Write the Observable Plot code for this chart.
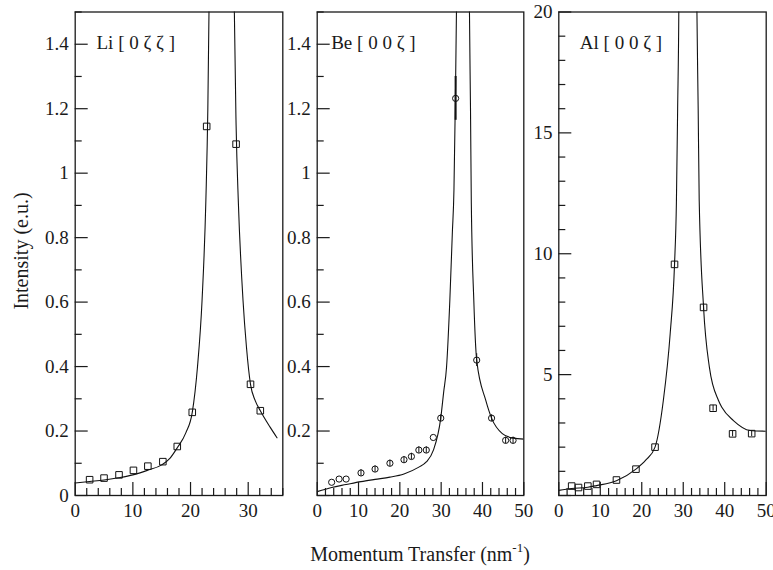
<!DOCTYPE html>
<html>
<head>
<meta charset="utf-8">
<script src="https://cdn.jsdelivr.net/npm/d3@7"></script>
<script src="https://cdn.jsdelivr.net/npm/@observablehq/plot@0.6"></script>
<style>
  html, body { margin: 0; padding: 0; background: #fff; }
  #chart { position: relative; width: 773px; height: 570px; font-family: "Times New Roman", "Liberation Serif", "DejaVu Serif", serif; color: #1a1a1a; overflow: hidden; }
  #chart svg, #chart svg text { font-family: "Times New Roman", "Liberation Serif", "DejaVu Serif", serif !important; }
  .panel { position: absolute; top: 0; }
  #ylab { position: absolute; left: 21px; top: 251px; transform: translate(-50%, -50%) rotate(-90deg); font-size: 20px; white-space: nowrap; }
  #xlab { position: absolute; left: 420px; top: 554px; transform: translate(-50%, -50%); font-size: 20px; white-space: nowrap; }
  #xlab sup { font-size: 13px; vertical-align: 9px; line-height: 0; }
</style>
</head>
<body>
<div id="chart">
  <div id="ylab">Intensity (e.u.)</div>
  <div id="xlab">Momentum Transfer (nm<sup>-1</sup>)</div>
</div>
<script>
// ---- Li [0ζζ] : measured intensities and model curve ----
const liQ = [2.5, 5.0, 7.6, 10.1, 12.6, 15.2, 17.7, 20.3, 22.8, 27.9, 30.4, 32.1];
const liI = [0.049, 0.054, 0.064, 0.078, 0.091, 0.105, 0.152, 0.258, 1.145, 1.090, 0.345, 0.263];
const liFitLo = [[0, 0.039], [2.5, 0.0435], [5, 0.048], [7.5, 0.055], [10, 0.064], [12.5, 0.078], [15, 0.095],
  [16.5, 0.117], [17.7, 0.148], [19.2, 0.195], [20.3, 0.258], [21.2, 0.398], [22.0, 0.606], [22.66, 0.916],
  [23.0, 1.2], [23.2, 1.5], [23.35, 1.8]];
const liFitHi = [[27.45, 1.8], [27.6, 1.5], [27.9, 1.15], [28.3, 0.906], [29.1, 0.606], [29.7, 0.46],
  [30.4, 0.345], [31.2, 0.295], [32.1, 0.263], [33.8, 0.212], [35.0, 0.179]];

// ---- Be [00ζ] ----
const beQ = [3.5, 5.3, 7.0, 10.6, 14.0, 17.6, 21.0, 22.8, 24.6, 26.4, 28.1, 29.9, 33.5, 38.6, 42.2, 45.6, 47.4];
const beI = [0.041, 0.051, 0.051, 0.070, 0.082, 0.100, 0.111, 0.121, 0.141, 0.141, 0.180, 0.240, 1.232, 0.420, 0.240, 0.171, 0.171];
const beErr = [0, 0, 0, 0.01, 0.01, 0.01, 0.01, 0.01, 0.01, 0.01, 0, 0.01, 0.068, 0.02, 0.01, 0.01, 0.01];
const beFitLo = [[0, 0.012], [3.5, 0.025], [7, 0.034], [10.6, 0.043], [14, 0.050], [17.6, 0.057], [21, 0.067],
  [24.6, 0.088], [26.4, 0.104], [28.1, 0.140], [29.9, 0.240], [30.6, 0.32], [31.3, 0.398], [32.1, 0.606],
  [32.7, 0.813], [33.1, 0.95], [33.4, 1.2], [33.7, 1.5], [33.85, 1.8]];
const beFitHi = [[36.7, 1.8], [36.85, 1.5], [37.1, 1.2], [37.3, 0.906], [37.9, 0.606], [38.6, 0.420],
  [40.8, 0.295], [42.2, 0.240], [44.8, 0.192], [47.4, 0.178], [50, 0.175]];

// ---- Al [00ζ] ----
const alQ = [3.1, 4.75, 7.0, 9.1, 13.9, 18.6, 23.2, 27.9, 34.9, 37.2, 41.9, 46.5];
const alI = [0.39, 0.33, 0.39, 0.46, 0.64, 1.09, 2.00, 9.56, 7.78, 3.61, 2.55, 2.56];
const alErr = [0, 0, 0, 0, 0, 0, 0, 0.15, 0.15, 0.12, 0.12, 0.12];
const alFitLo = [[0, 0.21], [3.1, 0.29], [7, 0.34], [9.1, 0.41], [13.9, 0.61], [18.6, 1.09], [21, 1.47],
  [23.2, 2.00], [25.2, 3.93], [26.85, 6.69], [27.9, 9.56], [28.35, 12.1], [28.65, 16], [28.93, 20], [29.0, 22]];
const alFitHi = [[33.2, 22], [33.3, 20], [33.6, 16], [33.85, 12.2], [34.9, 7.78], [36.3, 5.31], [38.5, 3.93],
  [39.3, 3.65], [42.1, 3.10], [46.1, 2.69], [49.9, 2.66]];

// ---- axis ticks and labels ----
const liXLabels = [0, 10, 20, 30];
const beXLabels = [0, 10, 20, 30, 40, 50];
const alXLabels = [0, 10, 20, 30, 40, 50];
const liYLabels = ["0", "0.2", "0.4", "0.6", "0.8", "1", "1.2", "1.4"];
const beYLabels = ["0.2", "0.4", "0.6", "0.8", "1", "1.2", "1.4"];
const alYLabels = ["5", "10", "15", "20"];

const H = 570, TOP = 11.5, BOTTOM = 495;
const INK = "#1a1a1a";
const SERIF = "'Times New Roman', 'Liberation Serif', 'DejaVu Serif', serif";

function ticksBetween(lo, hi, step, majors) {
  const out = [];
  const n = Math.round((hi - lo) / step);
  for (let i = 0; i <= n; i++) {
    const v = +(lo + i * step).toFixed(6);
    if (!majors.some(m => Math.abs(m - v) < 1e-6)) out.push(v);
  }
  return out;
}

function panel(cfg) {
  const frameW = cfg.right - cfg.left;
  const frameH = BOTTOM - TOP;
  const pts = cfg.q.map((q, i) => ({q, v: cfg.v[i], e: cfg.err ? cfg.err[i] : 0}));
  const xMajor = cfg.xMajor;
  const xMinor = ticksBetween(cfg.xDomain[0], cfg.xDomain[1], cfg.xStep, xMajor);
  const yMajor = cfg.yMajor;
  const yMinor = ticksBetween(cfg.yDomain[0], cfg.yDomain[1], cfg.yStep, yMajor);
  const yLab = cfg.yLabels.map(s => ({v: +s, s}));

  const svg = Plot.plot({
    width: cfg.boxRight - cfg.boxLeft,
    height: H,
    marginLeft: cfg.left - cfg.boxLeft,
    marginRight: cfg.boxRight - cfg.right,
    marginTop: TOP,
    marginBottom: H - BOTTOM,
    style: {background: "transparent", overflow: "visible", fontFamily: SERIF, color: INK},
    x: {domain: cfg.xDomain, axis: null},
    y: {domain: cfg.yDomain, axis: null},
    marks: [
      // model curve, both sides of the divergence
      Plot.line(cfg.fitLo, {x: d => d[0], y: d => d[1], curve: "monotone-x", stroke: "#111", strokeWidth: 1.1, clip: true}),
      Plot.line(cfg.fitHi, {x: d => d[0], y: d => d[1], curve: "monotone-x", stroke: "#111", strokeWidth: 1.1, clip: true}),
      // error bars
      Plot.ruleX(pts.filter(d => d.e > 0), {x: "q", y1: d => d.v - d.e, y2: d => d.v + d.e, stroke: "#111",
        strokeWidth: d => d.e > 0.05 && cfg.yDomain[1] < 2 ? 2 : 1}),
      // measured points
      Plot.dot(pts, {x: "q", y: "v", symbol: cfg.symbol, r: cfg.r, stroke: "#111", strokeWidth: 1, fill: "none"}),
      // inward tick marks
      Plot.ruleX(xMajor, {x: d => d, insetTop: frameH - 13, stroke: INK, strokeWidth: 1.2}),
      Plot.ruleX(xMinor, {x: d => d, insetTop: frameH - 7, stroke: INK, strokeWidth: 1.2}),
      Plot.ruleY(yMajor, {y: d => d, insetRight: frameW - 13, stroke: INK, strokeWidth: 1.2}),
      Plot.ruleY(yMinor, {y: d => d, insetRight: frameW - 7, stroke: INK, strokeWidth: 1.2}),
      Plot.frame({stroke: INK, strokeWidth: 1.3}),
      // tick labels
      Plot.text(cfg.xLabels, {x: d => d, frameAnchor: "bottom", lineAnchor: "top", dy: 7.5, fontSize: 19, fontFamily: SERIF, fill: INK}),
      Plot.text(yLab, {y: "v", text: "s", frameAnchor: "left", textAnchor: "end", dx: -6.4, fontSize: 19, fontFamily: SERIF, fill: INK}),
      // panel title
      Plot.text([cfg.title], {frameAnchor: "top-left", textAnchor: "start", dx: cfg.titleDx, dy: 23, fontSize: 19, fontFamily: SERIF, fill: INK})
    ]
  });
  const div = document.createElement("div");
  div.className = "panel";
  div.style.left = cfg.boxLeft + "px";
  div.style.width = (cfg.boxRight - cfg.boxLeft) + "px";
  div.appendChild(svg);
  document.getElementById("chart").appendChild(div);
}

panel({
  boxLeft: 0, boxRight: 284, left: 74.7, right: 282.3,
  xDomain: [0, 36], xStep: 2, xMajor: [0, 10, 20, 30], xLabels: liXLabels,
  yDomain: [0, 1.5], yStep: 0.1, yMajor: [0, 0.2, 0.4, 0.6, 0.8, 1, 1.2, 1.4], yLabels: liYLabels,
  q: liQ, v: liI, symbol: "square", r: 3.7,
  fitLo: liFitLo, fitHi: liFitHi, title: "Li [ 0 ζ ζ ]", titleDx: 21.3
});

panel({
  boxLeft: 284, boxRight: 526, left: 316.7, right: 523.3,
  xDomain: [0, 50], xStep: 2, xMajor: [0, 10, 20, 30, 40, 50], xLabels: beXLabels,
  yDomain: [0, 1.5], yStep: 0.1, yMajor: [0, 0.2, 0.4, 0.6, 0.8, 1, 1.2, 1.4], yLabels: beYLabels,
  q: beQ, v: beI, err: beErr, symbol: "circle", r: 3.1,
  fitLo: beFitLo, fitHi: beFitHi, title: "Be [ 0 0 ζ ]", titleDx: 14
});

panel({
  boxLeft: 526, boxRight: 773, left: 558.3, right: 765.7,
  xDomain: [0, 50], xStep: 2, xMajor: [0, 10, 20, 30, 40, 50], xLabels: alXLabels,
  yDomain: [0, 20], yStep: 1, yMajor: [0, 5, 10, 15, 20], yLabels: alYLabels,
  q: alQ, v: alI, err: alErr, symbol: "square", r: 3.7,
  fitLo: alFitLo, fitHi: alFitHi, title: "Al [ 0 0 ζ ]", titleDx: 21
});
</script>
</body>
</html>
